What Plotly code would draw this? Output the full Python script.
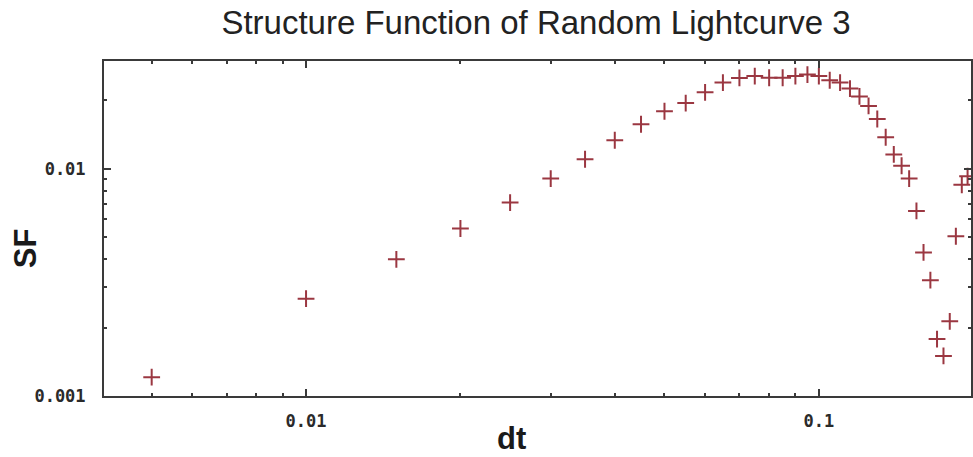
import plotly.graph_objects as go

# Structure function samples: lag dt and SF value
dt = [0.005, 0.010, 0.015, 0.020, 0.025, 0.030, 0.035, 0.040, 0.045, 0.050,
      0.055, 0.060, 0.065, 0.070, 0.075, 0.080, 0.085, 0.090, 0.095, 0.100,
      0.105, 0.110, 0.115, 0.120, 0.125, 0.130, 0.135, 0.140, 0.145, 0.150,
      0.155, 0.160, 0.165, 0.170, 0.175, 0.180, 0.185, 0.190, 0.195]
sf = [0.00121, 0.00268, 0.00399, 0.00545, 0.00709, 0.00904, 0.01099, 0.01332, 0.01566, 0.01787,
      0.01941, 0.02165, 0.02389, 0.02503, 0.02552, 0.02508, 0.02508, 0.02552, 0.02591, 0.02552,
      0.02445, 0.02389, 0.02248, 0.02075, 0.01885, 0.01652, 0.01373, 0.01154, 0.01029, 0.00904,
      0.00651, 0.00428, 0.00323, 0.00178, 0.00150, 0.00213, 0.00504, 0.00849, 0.00925]

title_text = "Structure Function of Random Lightcurve 3"
x_title = "dt"
y_title = "SF"

W, H = 973, 457
M_L, M_R, M_T, M_B = 104, 0, 61, 61

axis_color = "#3a3a3a"
mark_color = "rgb(155,55,65)"
tick_font = dict(family="DejaVu Sans Mono", size=17, color="#2a2a2a", weight="bold")

fig = go.Figure()
fig.add_trace(go.Scatter(
    x=dt, y=sf, mode="markers",
    marker=dict(symbol="cross-thin", size=12, line=dict(width=2, color=mark_color), color=mark_color),
    showlegend=False,
))

common = dict(
    type="log", showgrid=False, zeroline=False,
    showline=True, linecolor=axis_color, linewidth=2, mirror="ticks",
    ticks="inside", ticklen=7, tickwidth=1.5, tickcolor=axis_color,
    tickmode="linear", tick0=0, dtick=1, exponentformat="none",
    minor=dict(ticks="inside", ticklen=3, tickwidth=1.5, tickcolor=axis_color, dtick="D1", showgrid=False),
    tickfont=tick_font,
)

fig.update_xaxes(range=[-2.394, -0.7033], ticklabelstandoff=9, **common)
fig.update_yaxes(range=[-3, -1.527], ticklabelstandoff=13, **common)

pw = W - M_L - M_R
ph = H - M_T - M_B

def px_x(p):
    return (p - M_L) / pw

def px_y(p):
    return (H - M_B - p) / ph

fig.add_annotation(text=x_title, x=px_x(512), y=px_y(438), xref="paper", yref="paper",
                   showarrow=False, xanchor="center", yanchor="middle",
                   font=dict(family="Liberation Sans", size=31, color="#1a1a1a", weight="bold"))
fig.add_annotation(text=y_title, x=px_x(25), y=px_y(248), xref="paper", yref="paper",
                   showarrow=False, xanchor="center", yanchor="middle", textangle=-90,
                   font=dict(family="Liberation Sans", size=31, color="#1a1a1a", weight="bold"))

fig.update_layout(
    width=W, height=H,
    margin=dict(l=M_L, r=M_R, t=M_T, b=M_B),
    paper_bgcolor="white", plot_bgcolor="white",
    title=dict(text=title_text, x=536 / W, xref="container", xanchor="center",
               y=1 - 22 / H, yanchor="middle",
               font=dict(family="Liberation Sans", size=33, color="#222222")),
)

fig.write_html("out.html")
